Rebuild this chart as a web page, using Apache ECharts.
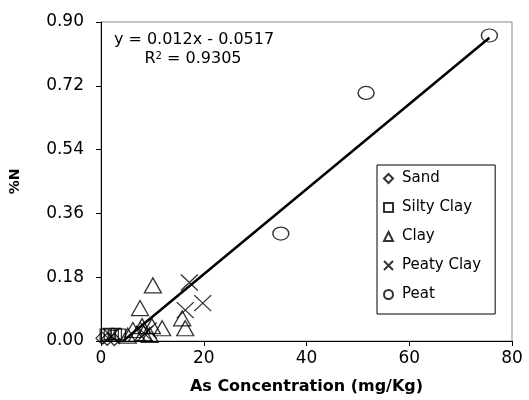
<!DOCTYPE html>
<html><head><meta charset="utf-8">
<script src="https://cdn.jsdelivr.net/npm/echarts@6/dist/echarts.min.js"></script>
<style>html,body{margin:0;padding:0;background:#fff}#c{width:529px;height:400px}</style>
</head><body><div id="c"></div>
<script>
var sand = [[0.2,0.008],[1.2,0.005],[2.6,0.004]];
var siltyClay = [[0.8,0.018],[1.6,0.02],[2.4,0.015],[3.0,0.02],[3.8,0.018]];
var clay = [[10.1,0.157],[7.6,0.093],[15.8,0.064],[16.4,0.036],[11.9,0.036],[9.9,0.042],[8.0,0.042],[6.2,0.031],[8.3,0.022],[9.5,0.017],[7.0,0.02],[5.2,0.015]];
var peatyClay = [[17.2,0.165],[19.8,0.107],[16.4,0.087],[8.5,0.02],[2.0,0.014],[9.2,0.03]];
var peat = [[75.6,0.862],[51.6,0.70],[35.0,0.303]];
var slope = 0.012, intercept = -0.0517;
var trendX = [4.3, 75.6];
var xTicks = [0, 20, 40, 60, 80];
var yTicks = [0, 0.18, 0.36, 0.54, 0.72, 0.90];

var FONT = '"DejaVu Sans", sans-serif';
var hollow = {color:'rgba(0,0,0,0)', borderColor:'#000', borderWidth:1.3};
var xPath = 'path://M0,0L10,10M10,0L0,10';
function sc(name, data, symbol, size) {
  return {name:name, type:'scatter', data:data, symbol:symbol, symbolSize:size, clip:false,
          itemStyle:hollow, z:3};
}
var chart = echarts.init(document.getElementById('c'), null, {renderer:'canvas'});
chart.setOption({
  animation:false,
  backgroundColor:'#fff',
  grid:{left:101, right:17, top:22, bottom:57, show:true, borderColor:'#8a8a8a', borderWidth:1, backgroundColor:'transparent'},
  xAxis:{type:'value', min:xTicks[0], max:xTicks[xTicks.length-1], interval:20,
    name:'As Concentration (mg/Kg)', nameLocation:'middle', nameGap:38,
    nameTextStyle:{fontFamily:FONT, fontWeight:'bold', fontSize:16, color:'#000'},
    axisLine:{lineStyle:{color:'#000', width:1}},
    axisTick:{show:true, length:5, lineStyle:{color:'#000'}},
    axisLabel:{fontFamily:FONT, fontSize:17, color:'#000', margin:9,
      formatter:function(v){return xTicks.indexOf(v)>=0 ? String(v) : '';}},
    splitLine:{show:false}},
  yAxis:{type:'value', min:0, max:0.9, interval:0.18,
    name:'%N', nameLocation:'middle', nameGap:79, nameRotate:90,
    nameTextStyle:{fontFamily:FONT, fontWeight:'bold', fontSize:14, color:'#000'},
    axisLine:{show:true, lineStyle:{color:'#000', width:1}},
    axisTick:{show:true, length:5, lineStyle:{color:'#000'}},
    axisLabel:{fontFamily:FONT, fontSize:17, color:'#000', margin:17,
      formatter:function(v){return v.toFixed(2);}},
    splitLine:{show:false}},
  legend:{orient:'vertical', left:377, top:165,
    backgroundColor:'#fff', borderColor:'#000', borderWidth:1,
    padding:[6,14,12,6], itemGap:14, itemWidth:9, itemHeight:9,
    textStyle:{fontFamily:FONT, fontSize:15, color:'#000', padding:[0,0,0,4]},
    data:[{name:'Sand', icon:'diamond'},{name:'Silty Clay', icon:'rect'},{name:'Clay', icon:'triangle'},{name:'Peaty Clay', icon:xPath},{name:'Peat', icon:'circle'}]},
  graphic:[
    {type:'text', x:194, y:40, style:{text:'y = 0.012x - 0.0517', font:'16px '+FONT, fill:'#000', align:'center', verticalAlign:'middle'}},
    {type:'text', x:193, y:59, style:{rich:{n:{fontSize:16, fontFamily:FONT}, s:{fontSize:10, fontFamily:FONT, verticalAlign:'top', padding:[0,0,6,0]}}, text:'{n|R}{s|2}{n| = 0.9305}', fill:'#000', align:'center', verticalAlign:'middle'}}
  ],
  series:[
    {name:'Trend', type:'line', data:trendX.map(function(x){return [x, slope*x+intercept];}),
      symbol:'none', lineStyle:{color:'#000', width:2.5}, z:2, silent:true},
    sc('Sand', sand, 'diamond', [12,12]),
    sc('Silty Clay', siltyClay, 'rect', [10,11]),
    sc('Clay', clay, 'triangle', [17,15]),
    sc('Peaty Clay', peatyClay, xPath, [17,16]),
    sc('Peat', peat, 'circle', [16,13])
  ]
});
</script></body></html>
